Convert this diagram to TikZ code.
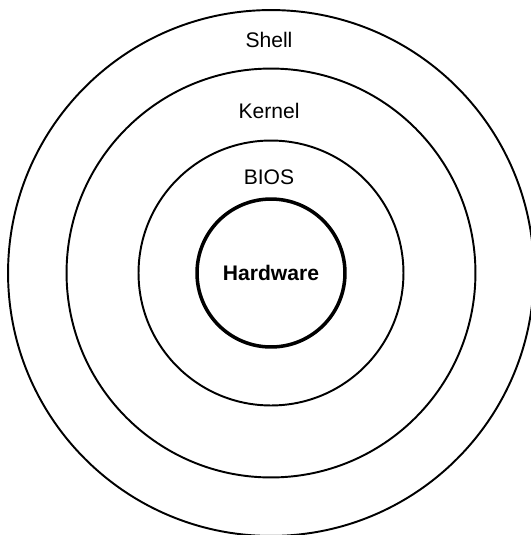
\documentclass[tikz,border=0pt]{standalone}
\usepackage{fontspec}
\setmainfont{Liberation Sans}
\usetikzlibrary{positioning}

\begin{document}
\begin{tikzpicture}[x=0.02cm, y=-0.02cm, font=\fontsize{12}{14}\selectfont]
  \tikzstyle{ring}=[draw, circle, inner sep=0pt, line width=1.1pt]
  \tikzstyle{core}=[ring, line width=2pt]
  \tikzstyle{layer}=[inner sep=0pt]

  \useasboundingbox (0,0) rectangle (531,535);
  \clip (0,0) rectangle (531,535);

  \coordinate (mid) at (271,273);

  % ------- rings -------
  \node[ring, minimum size=10.52cm] (shellring)  at (mid) {};
  \node[ring, minimum size=8.18cm]  (kernelring) at (mid) {};
  \node[ring, minimum size=5.30cm]  (biosring)   at (mid) {};
  \node[core, minimum size=2.96cm]  (hwring)     at (mid) {};

  % ------- labels -------
  \node[layer] (shell)  at (269,40)  {Shell};
  \node[layer] (kernel) at (269,111) {Kernel};
  \node[layer] (bios)   at (269,177) {BIOS};
  \node[layer] (hw)     at (mid)     {\textbf{Hardware}};
\end{tikzpicture}
\end{document}
